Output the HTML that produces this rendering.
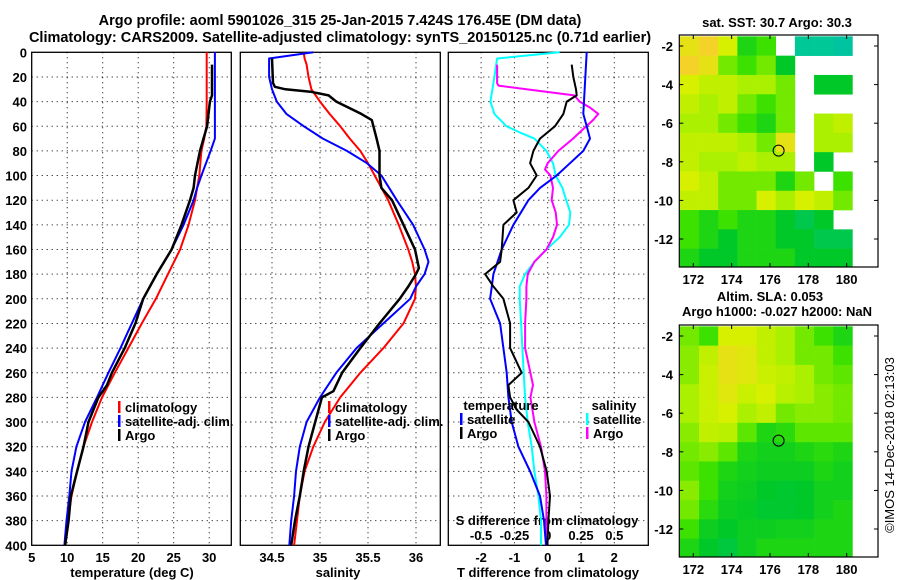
<!DOCTYPE html>
<html><head><meta charset="utf-8">
<style>
html,body{margin:0;padding:0;background:#fff;}
svg{display:block;font-family:"Liberation Sans",sans-serif;font-weight:bold;}
</style></head>
<body>
<svg id="chart" width="900" height="580" viewBox="0 0 900 580" xmlns="http://www.w3.org/2000/svg">
<text x="340" y="25" font-size="14.5" text-anchor="middle">Argo profile: aoml 5901026_315 25-Jan-2015 7.424S 176.45E (DM data)</text>
<text x="340" y="42" font-size="14.5" text-anchor="middle">Climatology: CARS2009. Satellite-adjusted climatology: synTS_20150125.nc (0.71d earlier)</text>
<g id="g"></g>
</svg>
<script>
// ---------- data ----------
const depthTemp = [0,20,40,60,70,80,100,110,120,140,160,180,200,220,240,260,270,280,300,320,340,360,380,400];
const tempClim  = [29.65,29.65,29.65,29.6,29.3,28.9,28.6,28.3,28.0,27.1,25.9,24.2,22.5,20.5,18.6,16.7,15.8,14.9,13.5,12.3,11.4,10.6,10.1,9.7];
const tempSat   = [30.8,30.8,30.8,30.8,30.8,30.2,28.9,28.3,27.8,26.4,24.7,22.6,20.7,19.1,17.5,15.8,15.0,14.2,12.5,11.3,10.6,10.3,9.9,9.6];
const depthArgoT = [10,35,40,60,70,80,100,110,120,140,160,180,200,220,240,260,270,280,300,320,340,360,380,400];
const tempArgo  = [30.4,30.4,30.1,29.7,29.2,28.7,28.0,27.8,27.3,26.1,24.7,22.6,20.7,19.6,18.1,16.3,15.6,14.4,13.0,12.3,11.4,10.5,10.2,9.7];

const depthSal = [0,5,10,20,30,40,50,60,70,80,90,100,120,140,160,170,180,190,200,220,240,260,280,300,320,340,360,380,400];
const salClim  = [34.83,34.84,34.86,34.88,34.91,35.0,35.1,35.21,35.31,35.42,35.5,35.57,35.71,35.82,35.92,35.96,35.99,36.0,35.99,35.87,35.66,35.42,35.21,35.05,34.93,34.84,34.79,34.76,34.73];
const salSat   = [34.93,34.47,34.47,34.47,34.5,34.55,34.65,34.83,35.03,35.28,35.49,35.64,35.8,35.97,36.09,36.13,36.09,36.0,35.94,35.66,35.38,35.17,35.0,34.86,34.79,34.75,34.73,34.7,34.68];
const depthArgoS = [5,25,28,30,32,35,40,45,50,55,70,80,100,110,120,140,160,175,180,190,200,220,240,260,275,280,300,320,340,360,380,400];
const salArgo  = [34.5,34.51,34.53,34.64,34.9,35.09,35.17,35.3,35.43,35.54,35.59,35.62,35.62,35.64,35.75,35.87,35.99,36.03,36.0,35.92,35.83,35.62,35.42,35.23,35.14,35.02,34.95,34.88,34.83,34.79,34.74,34.7];

const depthDiff = [0,50,60,70,80,90,100,110,120,140,160,180,190,200,210,220,240,260,280,300,320,340,360,380,400];
const tdiffSat  = [1.17,1.07,1.17,1.27,1.07,0.67,0.27,-0.23,-0.58,-1.03,-1.38,-1.63,-1.68,-1.73,-1.58,-1.43,-1.33,-1.23,-1.18,-1.08,-0.88,-0.53,-0.23,-0.11,-0.05];
const depthDiffArgo = [10,20,30,35,40,50,60,70,80,90,100,110,120,130,140,160,170,180,190,200,220,240,260,270,280,290,300,320,340,360,380,400];
const tdiffArgo = [0.72,0.77,0.85,0.87,0.57,0.47,0.22,-0.23,-0.43,-0.53,-0.33,-0.58,-1.03,-0.93,-1.33,-1.38,-1.43,-1.88,-1.63,-1.33,-1.13,-1.13,-0.78,-1.18,-1.13,-0.93,-0.58,-0.23,-0.03,0.07,0.02,-0.01];
const depthSdiffSat = [0,5,20,40,50,60,65,70,80,90,100,110,120,130,140,150,160,170,180,190,200,220,240,260,280,300,320,340,360,380,400];
const sdiffSat  = [0.09,-0.38,-0.4,-0.43,-0.4,-0.31,-0.21,-0.1,-0.01,0.04,0.06,0.11,0.14,0.17,0.16,0.09,-0.01,-0.1,-0.17,-0.21,-0.21,-0.2,-0.19,-0.18,-0.17,-0.15,-0.12,-0.1,-0.07,-0.05,-0.05];
const depthSdiffArgo = [10,25,27,30,35,40,45,50,55,60,70,80,90,95,100,110,120,130,140,150,160,170,180,190,200,220,240,260,270,280,300,320,340,360,380,400];
const sdiffArgo = [-0.38,-0.38,-0.37,-0.16,0.2,0.24,0.32,0.38,0.34,0.29,0.19,0.08,0.0,-0.02,0.02,0.04,0.03,0.06,0.07,0.04,-0.01,-0.1,-0.15,-0.16,-0.16,-0.17,-0.17,-0.13,-0.11,-0.13,-0.1,-0.05,-0.02,-0.01,-0.01,-0.01];

const depthTicks = [0,20,40,60,80,100,120,140,160,180,200,220,240,260,280,300,320,340,360,380,400];
const tempTicks = [5,10,15,20,25,30];
const salTicks = [34.5,35,35.5,36];
const tdTicks = [-2,-1,0,1,2];
const sdTicks = [-0.5,-0.25,0,0.25,0.5];
const lonTicks = [172,174,176,178,180];
const latTicks = [-2,-4,-6,-8,-10,-12];

const sstGrid = [
[0.8,0.85,0.75,0.5,0.55,null,0.3,0.3,0.25],
[0.85,0.8,0.6,0.55,0.6,0.45,null,null,null],
[0.75,0.7,0.7,0.65,0.65,0.6,null,0.45,0.45],
[0.7,0.65,0.7,0.6,0.55,0.6,null,null,null],
[0.65,0.65,0.6,0.55,0.5,0.6,null,0.65,0.7],
[0.7,0.7,0.7,0.65,0.6,0.8,null,0.65,0.65],
[0.7,0.65,0.65,0.7,0.65,0.65,null,0.45,null],
[0.75,0.7,0.6,0.6,0.6,0.5,0.6,null,0.55],
[0.7,0.7,0.6,0.6,0.75,0.65,0.75,0.7,0.6],
[0.55,0.5,0.55,0.5,0.5,0.45,0.4,0.45,null],
[0.55,0.5,0.45,0.5,0.5,0.45,0.45,0.4,0.4],
[0.5,0.45,0.45,0.5,0.5,0.5,0.45,0.45,0.45]];
const slaGrid = [
[0.6,0.55,0.75,0.75,0.7,0.65,0.6,0.55,0.5],
[0.62,0.7,0.8,0.78,0.7,0.65,0.6,0.6,0.55],
[0.62,0.72,0.8,0.78,0.72,0.7,0.65,0.6,0.58],
[0.65,0.72,0.78,0.72,0.75,0.68,0.65,0.62,0.6],
[0.65,0.72,0.75,0.65,0.7,0.6,0.62,0.62,0.6],
[0.62,0.7,0.68,0.58,0.5,0.52,0.58,0.58,0.58],
[0.6,0.62,0.58,0.5,0.48,0.48,0.5,0.52,0.5],
[0.58,0.55,0.5,0.48,0.47,0.47,0.47,0.5,0.48],
[0.62,0.55,0.48,0.47,0.45,0.44,0.45,0.48,0.48],
[0.6,0.52,0.47,0.46,0.44,0.44,0.45,0.48,0.5],
[0.55,0.47,0.45,0.47,0.47,0.48,0.48,0.5,0.5],
[0.5,0.45,0.42,0.47,0.5,0.5,0.5,0.5,0.5]];
const floatLon = 176.45, floatLat = -7.42;

// ---------- helpers ----------
const NS='http://www.w3.org/2000/svg';
const G=document.getElementById('g');
function mk(tag,attrs,parent){const e=document.createElementNS(NS,tag);for(const k in attrs)e.setAttribute(k,attrs[k]);(parent||G).appendChild(e);return e;}
function txt(x,y,s,size,anchor,parent){const t=mk('text',{x:x,y:y,'font-size':size,'text-anchor':anchor||'middle'},parent);t.textContent=s;return t;}

const PT=52.3, PB=545.3;
const yD = d => PT + d*(PB-PT)/400;
const xT = v => 31.7 + (v-5)*7.1;
const xS = v => 272 + (v-34.5)*96;
const xTD = v => 547.7 + v*33.3;
const xSD = v => 547.7 + v*133.2;

const panels = [[31.7,231.3],[240.3,440.3],[448.3,648.3]];
panels.forEach((p,i)=>{
  const box=mk('rect',{x:p[0],y:PT,width:p[1]-p[0],height:PB-PT,fill:'none',stroke:'#000','stroke-width':1.3});
  
  
  depthTicks.slice(1,-1).forEach(d=>{
    const l=mk('line',{x1:p[0],x2:p[1],y1:yD(d),y2:yD(d),stroke:'#000','stroke-width':1,'stroke-dasharray':'1,4'});
    
    
  });
});
depthTicks.forEach(d=>{
  const t=txt(27,yD(d)+5,String(d),13,'end');
  
  
});
function vgrid(vals,fx){
  vals.forEach(v=>{const x=fx(v);
    const l=mk('line',{x1:x,x2:x,y1:PT,y2:PB,stroke:'#000','stroke-width':1,'stroke-dasharray':'1,4'});
    
    
  });
}
vgrid(tempTicks.slice(1),xT); vgrid(salTicks,xS); vgrid(tdTicks,xTD);
tempTicks.forEach(v=>{const t=txt(xT(v),562,String(v),13);});
salTicks.forEach(v=>{const t=txt(xS(v),562,String(v),13);});
tdTicks.forEach(v=>{const t=txt(xTD(v),562,String(v),13);});
sdTicks.forEach(v=>{const t=txt(xSD(v),540,String(v),13);});
let t;
t=txt(132,577,'temperature (deg C)',13);
t=txt(338,577,'salinity',13);
t=txt(548,577,'T difference from climatology',13);
t=txt(547,525,'S difference from climatology',13);

function line(ds,vs,fx,color,name,w){
  const pts=ds.map((d,i)=>fx(vs[i]).toFixed(1)+','+yD(d).toFixed(1)).join(' ');
  const p=mk('polyline',{points:pts,fill:'none',stroke:color,'stroke-width':w||2,'stroke-linejoin':'round'});
  
  
}
line(depthTemp,tempClim,xT,'#ff0000','temp-climatology-line');
line(depthTemp,tempSat,xT,'#0000ff','temp-satellite-line');
line(depthArgoT,tempArgo,xT,'#000','temp-argo-line',2.5);
line(depthSal,salClim,xS,'#ff0000','salinity-climatology-line');
line(depthSal,salSat,xS,'#0000ff','salinity-satellite-line');
line(depthArgoS,salArgo,xS,'#000','salinity-argo-line',2.5);
line(depthSdiffSat,sdiffSat,xSD,'#00ffff','sdiff-satellite-line');
line(depthSdiffArgo,sdiffArgo,xSD,'#ff00ff','sdiff-argo-line');
line(depthDiff,tdiffSat,xTD,'#0000ff','tdiff-satellite-line');
line(depthDiffArgo,tdiffArgo,xTD,'#000','tdiff-argo-line');

function legend(x,y,items,name){
  const g=mk('g',{});
  
  
  items.forEach((it,i)=>{
    if(it[1]) mk('rect',{x:x,y:y+i*14-11,width:2.5,height:12,fill:it[1]},g);
    txt(x+7,y+i*14,it[0],13,'start',g);
  });
}
legend(118,412,[['climatology','#f00'],['satellite-adj. clim.','#00f'],['Argo','#000']],'temp-legend');
legend(328,412,[['climatology','#f00'],['satellite-adj. clim.','#00f'],['Argo','#000']],'salinity-legend');
t=txt(501,410,'temperature',13);
legend(460,424,[['satellite','#00f'],['Argo','#000']],'tdiff-legend');
t=txt(614,410,'salinity',13);
legend(586,424,[['satellite','#0ff'],['Argo','#f0f']],'sdiff-legend');

// ---------- maps ----------
function cmap(v){
  const stops=[[0.2,[0,190,170]],[0.3,[0,200,150]],[0.45,[0,200,40]],[0.55,[60,225,0]],[0.65,[170,240,0]],[0.75,[215,240,0]],[0.85,[245,210,40]],[1,[250,150,30]]];
  if(v<=stops[0][0])return 'rgb('+stops[0][1]+')';
  for(let i=1;i<stops.length;i++){if(v<=stops[i][0]){const a=stops[i-1],b=stops[i],f=(v-a[0])/(b[0]-a[0]);
    return 'rgb('+a[1].map((c,k)=>Math.round(c+(b[1][k]-c)*f)).join(',')+')';}}
  return 'rgb(250,150,30)';
}
const MX0=679.3, MX1=878;
const lonX = l => 693.3 + (l-172)*19.17;
function drawMap(y0,y1,grid,name){
  const latY = l => y0 + 11 + (-2-l)*19.3;
  const g=mk('g',{});
  
  
  grid.forEach((row,r)=>row.forEach((v,c)=>{
    if(v===null)return;
    const lat=-2-r, lon=171.8+c;
    const xa=Math.max(MX0,lonX(lon-0.5)), xb=lonX(lon+0.5);
    const ya=Math.max(y0,latY(lat+0.5)), yb=Math.min(y1,latY(lat-0.5));
    const cell=mk('rect',{x:xa,y:ya,width:xb-xa+0.3,height:yb-ya+0.3,fill:cmap(v)},g);
    
    
  }));
  mk('rect',{x:MX0,y:y0,width:MX1-MX0,height:y1-y0,fill:'none',stroke:'#000','stroke-width':1.2},g);
  const c=mk('circle',{cx:lonX(floatLon),cy:latY(floatLat),r:5.5,fill:'none',stroke:'#000','stroke-width':1},g);
  
  
  latTicks.forEach(l=>{const y=latY(l);
    mk('line',{x1:MX0,x2:MX0+4,y1:y,y2:y,stroke:'#000'},g);
    mk('line',{x1:MX1-4,x2:MX1,y1:y,y2:y,stroke:'#000'},g);
    txt(673,y+5,String(l),13,'end',g);});
  lonTicks.forEach(l=>{const x=lonX(l);
    mk('line',{x1:x,x2:x,y1:y1-4,y2:y1,stroke:'#000'},g);
    mk('line',{x1:x,x2:x,y1:y0,y2:y0+4,stroke:'#000'},g);
    txt(x,y1+17,String(l),13,'middle',g);});
}
drawMap(35,267,sstGrid,'sst-map');
drawMap(325,557,slaGrid,'sla-map');
t=txt(777,27,'sat. SST: 30.7 Argo: 30.3',13);
t=txt(770,301,'Altim. SLA: 0.053',13);
t=txt(777,316,'Argo h1000: -0.027 h2000: NaN',13);
t=txt(0,0,'©IMOS 14-Dec-2018 02:13:03',13);
t.setAttribute('transform','translate(894,445) rotate(-90)');
t.setAttribute('font-weight','normal');


</script>
</body></html>
